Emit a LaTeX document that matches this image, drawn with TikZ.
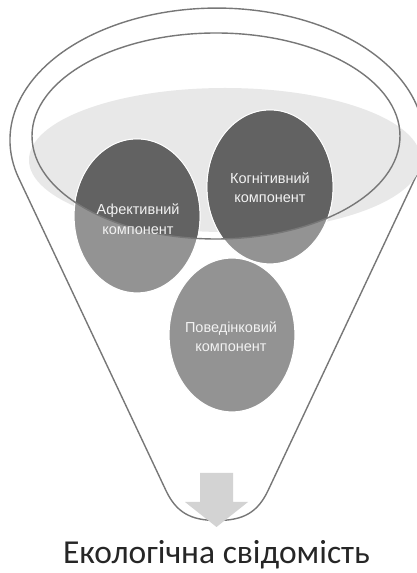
\documentclass[tikz,border=0pt]{standalone}
\usepackage{fontspec}
\setmainfont{Carlito}
\newfontfamily\circfont{Liberation Sans}
\usetikzlibrary{shapes.geometric}
\definecolor{linegray}{HTML}{777777}
\definecolor{surfgray}{HTML}{E8E8E8}
\definecolor{midgray}{HTML}{939393}
\definecolor{darkgray}{HTML}{626262}
\definecolor{arrowgray}{HTML}{D3D3D3}
\definecolor{txtwhite}{HTML}{F2F2F2}
\tikzset{
  funnelline/.style={draw=linegray, line width=1.4pt},
  compcircle/.style={ellipse, fill=midgray, draw=white, line width=1.2pt,
    minimum width=126pt, minimum height=154pt, inner sep=0pt},
  comptext/.style={font=\circfont\fontsize{14.5}{19.5}\selectfont, text=txtwhite,
    align=center, inner sep=0pt},
  bigarrow/.style={fill=arrowgray, draw=none},
  titletext/.style={font=\fontsize{33.5}{36}\selectfont, text=black!85, inner sep=0pt, anchor=base}
}
\begin{document}
\begin{tikzpicture}[x=1pt,y=1pt]
\useasboundingbox (0,0) rectangle (417,573);
% funnel outline
\draw[funnelline, fill=white] (415.3,395.2) arc[start angle=-16.6, end angle=196.6, x radius=207pt, y radius=132pt]
  -- (165.7,83) .. controls (176,61) and (190,52.5) .. (217,52.5)
  .. controls (244,52.5) and (258,61) .. (268.3,83) -- cycle;
% liquid surface
\fill[surfgray] (225,413) ellipse [x radius=196pt, y radius=72pt];
% component circles
\node[compcircle] (aff) at (137,357) {};
\node[compcircle] (cog) at (270,386) {};
\node[compcircle] (beh) at (232,238) {};
% darker part inside the funnel opening
\begin{scope}
  \clip (216,437) ellipse [x radius=184pt, y radius=103pt];
  \fill[darkgray] (aff.center) ellipse [x radius=62.4pt, y radius=76.4pt];
  \fill[darkgray] (cog.center) ellipse [x radius=62.4pt, y radius=76.4pt];
\end{scope}
% inner rim
\draw[funnelline] (216,437) ellipse [x radius=184pt, y radius=103pt];
% texts
\node[comptext] (afft) at (138,354) {Афективний\\компонент};
\node[comptext] (cogt) at (270,385.5) {Когнітивний\\компонент};
\node[comptext] (beht) at (231,236.5) {Поведінковий\\компонент};
% arrow
\fill[bigarrow] (200,100) -- (233,100) -- (233,71) -- (248,71) -- (216.5,46) -- (185,71) -- (200,71) -- cycle;
% title
\node[titletext] (title) at (216.5,9.5) {Екологічна свідомість};
\end{tikzpicture}
\end{document}
